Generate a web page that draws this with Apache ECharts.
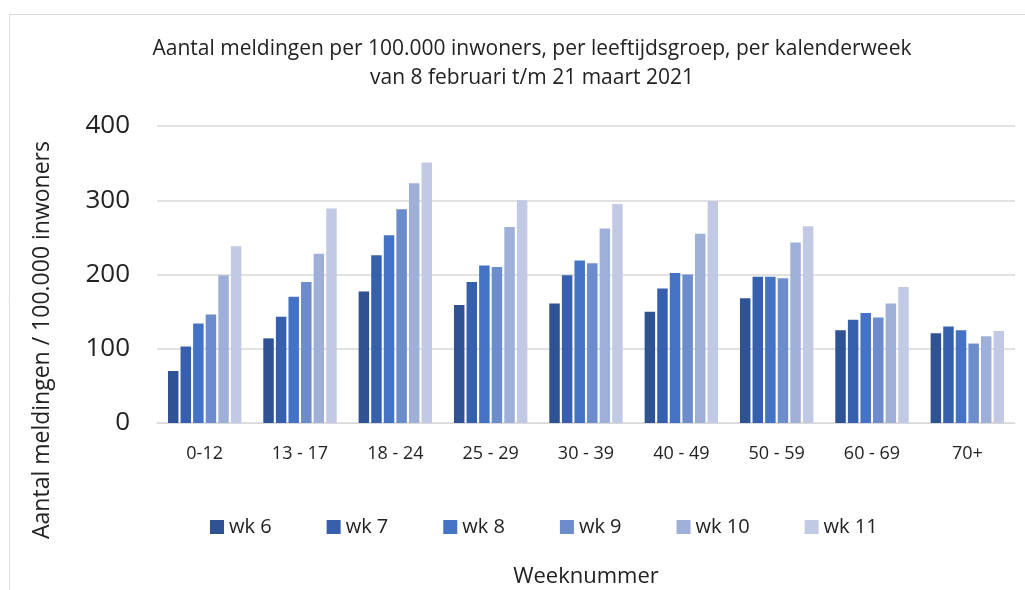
<!DOCTYPE html>
<html>
<head>
<meta charset="utf-8">
<script src="https://cdn.jsdelivr.net/npm/echarts@6/dist/echarts.min.js"></script>
<style>
  html, body { margin: 0; padding: 0; background: #fff; }
  #chart { width: 1025px; height: 590px; }
</style>
</head>
<body>
<div id="chart"></div>
<script>
// leeftijdsgroepen
const categories = ['0-12', '13 - 17', '18 - 24', '25 - 29', '30 - 39', '40 - 49', '50 - 59', '60 - 69', '70+'];
const weeks = ['wk 6', 'wk 7', 'wk 8', 'wk 9', 'wk 10', 'wk 11'];
const wk6 = [70, 114, 177, 159, 161, 150, 168, 125, 121];
const wk7 = [103, 143, 226, 190, 199, 181, 197, 139, 130];
const wk8 = [134, 170, 253, 212, 219, 202, 197, 148, 125];
const wk9 = [146, 190, 288, 210, 215, 200, 195, 142, 107];
const wk10 = [199, 228, 323, 264, 262, 255, 243, 161, 117];
const wk11 = [238, 289, 351, 300, 295, 299, 265, 183, 124];
const yTicks = [0, 100, 200, 300, 400];
const colors = ['#2f5292', '#3660ad', '#4472c4', '#6d8ccc', '#9eafd8', '#c1c9e4'];

{
  const values = [wk6, wk7, wk8, wk9, wk10, wk11];
  const font = '"Open Sans", sans-serif';
  const chart = echarts.init(document.querySelector('#chart'));
  const option = {
    animation: false,
    color: colors,
    textStyle: { fontFamily: font, color: '#222' },
    title: {
      text: 'Aantal meldingen per 100.000 inwoners, per leeftijdsgroep, per kalenderweek\nvan 8 februari t/m 21 maart 2021',
      left: 527, top: 30, textAlign: 'center',
      textStyle: { fontFamily: font, fontSize: 21, fontWeight: 'normal', lineHeight: 29, color: '#222' }
    },
    legend: {
      data: weeks,
      left: 205, top: 512,
      itemWidth: 14, itemHeight: 14, itemGap: 55,
      icon: 'rect',
      textStyle: { fontFamily: font, fontSize: 20, color: '#222' }
    },
    grid: { left: 157, right: 10, top: 126, bottom: 167, outerBoundsMode: 'none' },
    xAxis: {
      type: 'category',
      data: categories,
      name: 'Weeknummer',
      nameLocation: 'middle',
      nameGap: 143,
      nameTextStyle: { fontFamily: font, fontSize: 22, color: '#222' },
      axisLine: { lineStyle: { color: '#d9d9d9' } },
      axisTick: { show: false },
      axisLabel: { fontFamily: font, fontSize: 18, color: '#222', margin: 22 }
    },
    yAxis: {
      type: 'value',
      min: yTicks[0], max: yTicks[yTicks.length - 1], interval: 100,
      axisLine: { show: false },
      axisTick: { show: false },
      splitLine: { lineStyle: { color: '#d9d9d9', width: 1.5 } },
      axisLabel: { fontFamily: font, fontSize: 26, color: '#222', margin: 27 }
    },
    series: weeks.map((name, i) => ({
      name,
      type: 'bar',
      data: values[i],
      barGap: '20%',
      barCategoryGap: '23%'
    })),
    graphic: [
      { type: 'line', shape: { x1: 9.5, y1: 14.5, x2: 1025, y2: 14.5 }, style: { stroke: '#dcdcdc', lineWidth: 1 } },
      { type: 'line', shape: { x1: 9.5, y1: 14.5, x2: 9.5, y2: 590 }, style: { stroke: '#dcdcdc', lineWidth: 1 } },
      {
        type: 'text', x: 42, y: 340, rotation: Math.PI / 2,
        style: {
          text: 'Aantal meldingen / 100.000 inwoners',
          fontFamily: font, fontSize: 23, fill: '#222',
          align: 'center', verticalAlign: 'middle'
        }
      }
    ]
  };
  chart.setOption(option);
}
</script>
</body>
</html>
